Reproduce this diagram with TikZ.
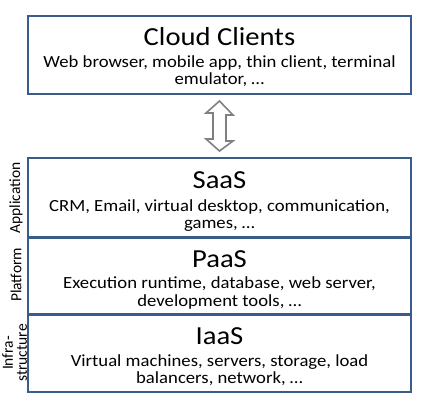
\documentclass[tikz,border=0pt]{standalone}
\usepackage{fontspec}
\usetikzlibrary{calc}
\setmainfont[FakeStretch=1.1]{Carlito}
\newfontfamily\sidefont{Carlito}
\definecolor{boxblue}{HTML}{385D8A}
\definecolor{arrowgray}{HTML}{808080}
\tikzset{
  layer/.style={draw=boxblue, line width=2bp, fill=white, minimum width=383bp, inner sep=0pt},
  titletxt/.style={anchor=base, inner sep=0pt, font=\fontsize{26bp}{30bp}\selectfont},
  bodytxt/.style={anchor=base, inner sep=0pt, font=\fontsize{17bp}{20bp}\selectfont},
  sidetxt/.style={rotate=90, inner sep=0pt, align=center, font=\sidefont\fontsize{15.5bp}{14bp}\selectfont},
  blockarrow/.style={draw=arrowgray, line width=1.6bp, fill=white, line join=miter}
}
\begin{document}
\begin{tikzpicture}[x=1bp,y=-1bp]
\useasboundingbox (0,0) rectangle (422,405);
% boxes
\node[layer, minimum height=78bp] (clients) at (219.5,55) {};
\node[layer, minimum height=79bp] (saas) at (219.5,197.5) {};
\node[layer, minimum height=77bp] (paas) at (219.5,275.5) {};
\node[layer, minimum height=78bp] (iaas) at (219.5,353) {};
\draw[boxblue, line width=2bp] (saas.south west) -- (saas.south east);
\draw[boxblue, line width=2bp] (paas.south west) -- (paas.south east);
% texts
\node[titletxt] (cct) at (219.5,45) {Cloud Clients};
\node[bodytxt] (cc1) at (219.5,67) {Web browser, mobile app, thin client, terminal};
\node[bodytxt] (cc2) at (219.5,84) {emulator, \dots};
\node[titletxt] (st) at (219.5,188) {SaaS};
\node[bodytxt] (s1) at (219.5,211) {CRM, Email, virtual desktop, communication,};
\node[bodytxt] (s2) at (219.5,228) {games, \dots};
\node[titletxt] (pt) at (219.5,267) {PaaS};
\node[bodytxt] (p1) at (219.5,288) {Execution runtime, database, web server,};
\node[bodytxt] (p2) at (219.5,306) {development tools, \dots};
\node[titletxt] (it) at (219.5,344) {IaaS};
\node[bodytxt] (i1) at (219.5,366) {Virtual machines, servers, storage, load};
\node[bodytxt] (i2) at (219.5,383) {balancers, network, \dots};
% side labels
\node[sidetxt] (app) at (16,198) {Application};
\node[sidetxt] (plat) at (16,275) {Platform};
\node[sidetxt] (infra) at (14.5,353) {Infra-\\structure};
% double arrow between clients and saas
\coordinate (atop) at ($(clients.south)+(0,6)$);
\coordinate (abot) at ($(saas.north)+(0,-6)$);
\draw[blockarrow] (atop)
  -- ++(13.5,14) -- ++(-7,0) -- ++(0,26) -- ++(7,0)
  -- (abot)
  -- ++(-13.5,-12) -- ++(7,0) -- ++(0,-26) -- ++(-7,0) -- cycle;
\end{tikzpicture}
\end{document}
